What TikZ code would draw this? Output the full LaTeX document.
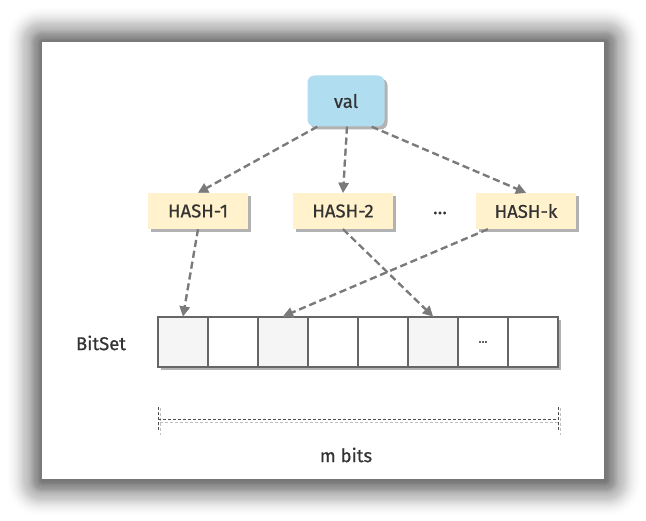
\documentclass[tikz,border=0pt]{standalone}
\usepackage{fontspec}
\setmainfont{Fira Sans}
\newfontfamily\lblfont[FakeBold=0.6]{Fira Sans}
\usetikzlibrary{arrows.meta,calc,shadows}
\definecolor{valfill}{HTML}{B1DDF0}
\definecolor{hashfill}{HTML}{FFF2CC}
\definecolor{cellfill}{HTML}{F5F5F5}
\definecolor{celldraw}{HTML}{666666}
\definecolor{txt}{HTML}{333333}
\definecolor{arr}{HTML}{7A7A7A}
\tikzset{
  lbl/.style={text=txt,font=\lblfont\fontsize{18.5}{21}\selectfont},
  boxshadow/.style={drop shadow={shadow xshift=3pt,shadow yshift=-3pt,fill=black,opacity=0.3}},
  valbox/.style={lbl,fill=valfill,rounded corners=7pt,minimum width=77pt,minimum height=51pt,inner sep=0pt,boxshadow},
  hashbox/.style={lbl,fill=hashfill,minimum width=100pt,minimum height=36pt,inner sep=0pt,boxshadow},
  cell/.style={draw=celldraw,line width=1.1pt,minimum width=50pt,minimum height=50pt,inner sep=0pt,lbl},
  conn/.style={draw=arr,line width=2.2pt,dash pattern=on 7pt off 4pt,-{Triangle[length=10pt,width=10pt]}},
  connsh/.style={draw=black!30,line width=2.2pt,dash pattern=on 7pt off 4pt,-{Triangle[length=10pt,width=10pt]}},
  dimline/.style={draw=black!70,line width=0.8pt,dash pattern=on 3pt off 2pt},
  dimsh/.style={draw=black!25,line width=0.8pt,dash pattern=on 3pt off 2pt}
}
\begin{document}
\begin{tikzpicture}[x=1pt,y=-1pt]
\useasboundingbox (0,0) rectangle (646,521);
% card shadow (darker close to the card, fading outwards)
\foreach \i in {1,...,34}{
  \pgfmathsetmacro{\op}{0.0013*(35-\i)}
  \fill[black,opacity=\op,rounded corners=\i pt] (42-1.1*\i+1,42-1.1*\i+1) rectangle (604+1.1*\i+1,479+1.1*\i+1);
}
\fill[white] (42,42) rectangle (604,479);

% nodes
\node[valbox] (val) at (346,101) {val};
\node[hashbox] (h1) at (198,211) {HASH-1};
\node[hashbox] (h2) at (343,211) {HASH-2};
\node[lbl] (dots) at (440,213) {\dots};
\node[hashbox] (hk) at (526,211) {HASH-k};

\node[lbl] (bitset) at (101,343) {BitSet};
% row shadow
\fill[black!30] (161,320) rectangle (561,370);
\foreach \i/\f in {1/cellfill,2/white,3/cellfill,4/white,5/white,6/cellfill,7/white,8/white}{
  \node[cell,fill=\f] (c\i) at ({183+50*(\i-1)},342) {};
}
\node[lbl,font=\lblfont\fontsize{12}{13}\selectfont] (cdots) at (c7) {\dots};

% connectors (shadows first)
\begin{scope}[shift={(3,3)}]
\draw[connsh] ($(val.south west)+(10,0)$) -- (h1.north);
\draw[connsh] ($(val.south)+(1,0)$) -- (h2.north);
\draw[connsh] ($(val.south east)+(-13,0)$) -- (hk.north);
\draw[connsh] (h1.south) -- (c1.north);
\draw[connsh] (h2.south) -- (c6.north);
\draw[connsh] ($(hk.south west)+(12,0)$) -- (c3.north);
\end{scope}
\draw[conn] ($(val.south west)+(10,0)$) -- (h1.north);
\draw[conn] ($(val.south)+(1,0)$) -- (h2.north);
\draw[conn] ($(val.south east)+(-13,0)$) -- (hk.north);
\draw[conn] (h1.south) -- (c1.north);
\draw[conn] (h2.south) -- (c6.north);
\draw[conn] ($(hk.south west)+(12,0)$) -- (c3.north);

% dimension
\coordinate (d1) at (158,419);
\coordinate (d2) at (558,419);
\draw[dimsh] ($(d1)+(2,3)$) -- ($(d2)+(2,3)$);
\draw[dimsh] ($(d1)+(2,-11)$) -- ($(d1)+(2,16)$);
\draw[dimsh] ($(d2)+(2,-11)$) -- ($(d2)+(2,16)$);
\draw[dimline] (d1) -- (d2);
\draw[dimline] ($(d1)+(0,-12)$) -- ($(d1)+(0,12)$);
\draw[dimline] ($(d2)+(0,-12)$) -- ($(d2)+(0,12)$);
\node[lbl] (mbits) at (346,455) {m bits};
\end{tikzpicture}
\end{document}
